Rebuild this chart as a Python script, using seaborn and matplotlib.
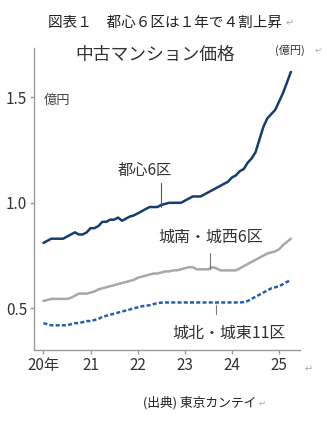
import numpy as np
import pandas as pd
import matplotlib
matplotlib.use("Agg")
import matplotlib.pyplot as plt
from matplotlib import font_manager
import seaborn as sns

# ---- data (monthly, Jan 2020 - Apr 2025), 100M yen ----
months = pd.date_range("2020-01-01", periods=64, freq="MS")
toshin6 = [0.81, 0.82, 0.83, 0.83, 0.83, 0.83, 0.84, 0.85, 0.86, 0.85, 0.85, 0.86,
           0.88, 0.88, 0.89, 0.91, 0.91, 0.92, 0.92, 0.93, 0.915, 0.925, 0.935, 0.94,
           0.95, 0.96, 0.97, 0.98, 0.98, 0.98, 0.99, 0.995, 1.00, 1.00, 1.00, 1.00,
           1.01, 1.02, 1.03, 1.03, 1.03, 1.04, 1.05, 1.06, 1.07, 1.08, 1.09, 1.10,
           1.12, 1.13, 1.15, 1.16, 1.19, 1.21, 1.24, 1.30, 1.36, 1.40, 1.42, 1.44,
           1.48, 1.52, 1.57, 1.62]
jonan6 = [0.535, 0.54, 0.545, 0.545, 0.545, 0.545, 0.545, 0.55, 0.56, 0.57, 0.57, 0.57,
          0.575, 0.58, 0.59, 0.595, 0.60, 0.605, 0.61, 0.615, 0.62, 0.625, 0.63, 0.635,
          0.645, 0.65, 0.655, 0.66, 0.665, 0.665, 0.67, 0.675, 0.675, 0.68, 0.68, 0.685,
          0.69, 0.695, 0.695, 0.685, 0.685, 0.685, 0.685, 0.695, 0.69, 0.68, 0.68, 0.68,
          0.68, 0.68, 0.69, 0.70, 0.71, 0.72, 0.73, 0.74, 0.75, 0.76, 0.765, 0.77,
          0.78, 0.80, 0.815, 0.83]
johoku11 = [0.43, 0.425, 0.42, 0.42, 0.42, 0.42, 0.42, 0.425, 0.43, 0.43, 0.435, 0.44,
            0.44, 0.445, 0.45, 0.46, 0.465, 0.47, 0.475, 0.48, 0.485, 0.49, 0.495, 0.50,
            0.505, 0.51, 0.512, 0.515, 0.52, 0.525, 0.527, 0.528, 0.528, 0.528, 0.528, 0.528,
            0.528, 0.528, 0.528, 0.528, 0.528, 0.528, 0.528, 0.528, 0.528, 0.528, 0.528, 0.528,
            0.528, 0.528, 0.528, 0.53, 0.535, 0.545, 0.555, 0.565, 0.575, 0.585, 0.595, 0.60,
            0.605, 0.615, 0.625, 0.635]
series_names = ["都心6区", "城南・城西6区", "城北・城東11区"]
year_ticks = [20, 21, 22, 23, 24, 25]
year_labels = ["20年", "21", "22", "23", "24", "25"]
y_ticks = [0.5, 1.0, 1.5]
y_labels = ["0.5", "1.0", "1.5"]

# ---- tidy frame ----
t = 20 + (months.year - 2020) + (months.month - 1) / 12.0
df = pd.concat([
    pd.DataFrame({"t": t, "v": toshin6, "s": series_names[0]}),
    pd.DataFrame({"t": t, "v": jonan6, "s": series_names[1]}),
    pd.DataFrame({"t": t, "v": johoku11, "s": series_names[2]}),
])

sns.set_theme(style="white")
CJK = ["Noto Sans CJK JP", "DejaVu Sans"]
plt.rcParams["font.family"] = CJK

installed = {f.name for f in font_manager.fontManager.ttflist}
if "Liberation Sans Narrow" in installed:
    tick_family = ["Liberation Sans Narrow", "Noto Sans CJK JP"]
    tick_size = 12
else:
    tick_family = CJK
    tick_size = 11

fig = plt.figure(figsize=(3.27, 4.25), dpi=100)
ax = fig.add_axes([0.104, 0.176, 0.813, 0.711])

palette = {series_names[0]: "#163e6c", series_names[1]: "#a8a8a8", series_names[2]: "#2560aa"}
sns.lineplot(data=df, x="t", y="v", hue="s", palette=palette, ax=ax, legend=False,
             linewidth=1.8, style="s",
             dashes={series_names[0]: "", series_names[1]: "", series_names[2]: (1.6, 0.9)})

ax.set_xlim(19.80, 25.44)
ax.set_ylim(0.302, 1.733)
ax.set_xticks(year_ticks)
ax.set_xticklabels(year_labels, family=tick_family, fontsize=tick_size)
ax.set_yticks(y_ticks)
ax.set_yticklabels(y_labels, family=tick_family, fontsize=tick_size)
ax.set_xlabel("")
ax.set_ylabel("")
for s in ["top", "right"]:
    ax.spines[s].set_visible(False)
for s in ["left", "bottom"]:
    ax.spines[s].set_color("#9a9a9a")
    ax.spines[s].set_linewidth(1.0)
ax.tick_params(axis="both", direction="out", length=3, width=1.0, color="#9a9a9a",
               labelcolor="#333333", pad=2, left=True, bottom=True)

# annotations
tc = "#333333"
ax.text(20.0, 1.487, "億円", fontsize=9.5, color="#444444", ha="left", va="center")
ax.text(22.15, 1.155, "都心6区", fontsize=11, color=tc, ha="center", va="center")
ax.plot([22.5, 22.5], [1.095, 0.98], color="#555555", lw=0.8)
ax.text(23.55, 0.835, "城南・城西6区", fontsize=11.5, color=tc, ha="center", va="center")
ax.plot([23.53, 23.53], [0.76, 0.685], color="#777777", lw=0.8)
ax.text(23.93, 0.38, "城北・城東11区", fontsize=11.5, color=tc, ha="center", va="center")
ax.plot([23.66, 23.66], [0.515, 0.475], color="#777777", lw=0.8)

# figure texts
fig.text(0.505, 0.945, "図表１　都心６区は１年で４割上昇", fontsize=10.5, color="#222222",
         ha="center", va="center")
fig.text(0.885, 0.945, "↵", fontsize=7, color="#aaaaaa", ha="center", va="center")
fig.text(0.474, 0.871, "中古マンション価格", fontsize=12.8, color="#333333",
         ha="center", va="center")
fig.text(0.887, 0.882, "(億円)", fontsize=8, color="#333333", ha="center", va="center")
fig.text(0.973, 0.882, "↵", fontsize=6, color="#aaaaaa", ha="center", va="center")
fig.text(0.945, 0.130, "↵", fontsize=7, color="#aaaaaa", ha="center", va="center")
fig.text(0.612, 0.052, "(出典) 東京カンテイ", fontsize=9.2, color="#222222",
         ha="center", va="center")
fig.text(0.80, 0.052, "↵", fontsize=6, color="#aaaaaa", ha="center", va="center")

fig.savefig("out.png", dpi=100)
